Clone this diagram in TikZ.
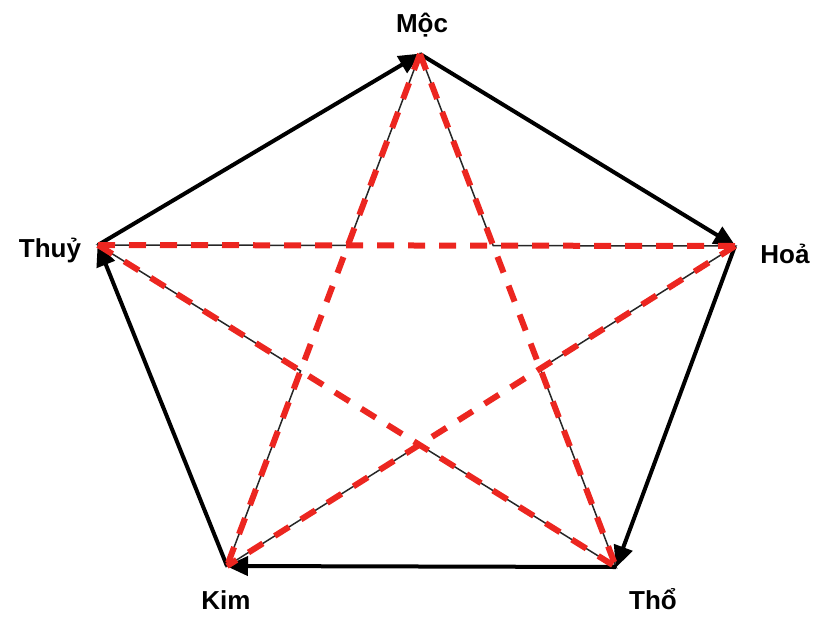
\documentclass[tikz,border=0pt]{standalone}
\usepackage{fontspec}
\setmainfont{Liberation Sans}
\usetikzlibrary{arrows.meta}
\definecolor{starred}{RGB}{236,38,32}
\begin{document}
\begin{tikzpicture}[x=1pt,y=-1pt,
  lbl/.style={font=\fontsize{26}{28}\selectfont\bfseries, anchor=base, inner sep=0pt},
  cycle/.style={line width=4pt, -{Triangle[length=22pt,width=19pt]}, shorten >=-1pt},
  thinstar/.style={line width=1.5pt, black!85, line join=miter},
  reddash/.style={line width=6pt, starred, dash pattern=on 17pt off 14pt}]
\useasboundingbox (0,0) rectangle (819,616);
\coordinate (moc) at (420,54);
\coordinate (hoa) at (735,246);
\coordinate (tho) at (616,567);
\coordinate (kim) at (227,566);
\coordinate (thuy) at (98,245);
% inner pentagon
\coordinate (p1) at (intersection of thuy--hoa and moc--kim);
\coordinate (p2) at (intersection of thuy--hoa and moc--tho);
\coordinate (p3) at (intersection of moc--tho and hoa--kim);
\coordinate (p4) at (intersection of hoa--kim and thuy--tho);
\coordinate (p5) at (intersection of thuy--tho and moc--kim);
% labels
\node[lbl] (lmoc) at (422,32) {Mộc};
\node[lbl] (lhoa) at (785,263) {Hoả};
\node[lbl] (ltho) at (653,609) {Thổ};
\node[lbl] (lkim) at (226,609) {Kim};
\node[lbl] (lthuy) at (50,257) {Thuỷ};
% thin star outline
\draw[thinstar] (moc) -- (p2) -- (hoa) -- (p3) -- (tho) -- (p4) -- (kim) -- (p5) -- (thuy) -- (p1) -- cycle;
% thick cycle arrows
\draw[cycle] (moc) -- (hoa);
\draw[cycle] (hoa) -- (tho);
\draw[cycle] (tho) -- (kim);
\draw[cycle] (kim) -- (thuy);
\draw[cycle] (thuy) -- (moc);
% red dashed pentagram
\draw[reddash] (moc) -- (kim);
\draw[reddash] (moc) -- (tho);
\draw[reddash] (thuy) -- (hoa);
\draw[reddash] (thuy) -- (tho);
\draw[reddash] (hoa) -- (kim);
\end{tikzpicture}
\end{document}
